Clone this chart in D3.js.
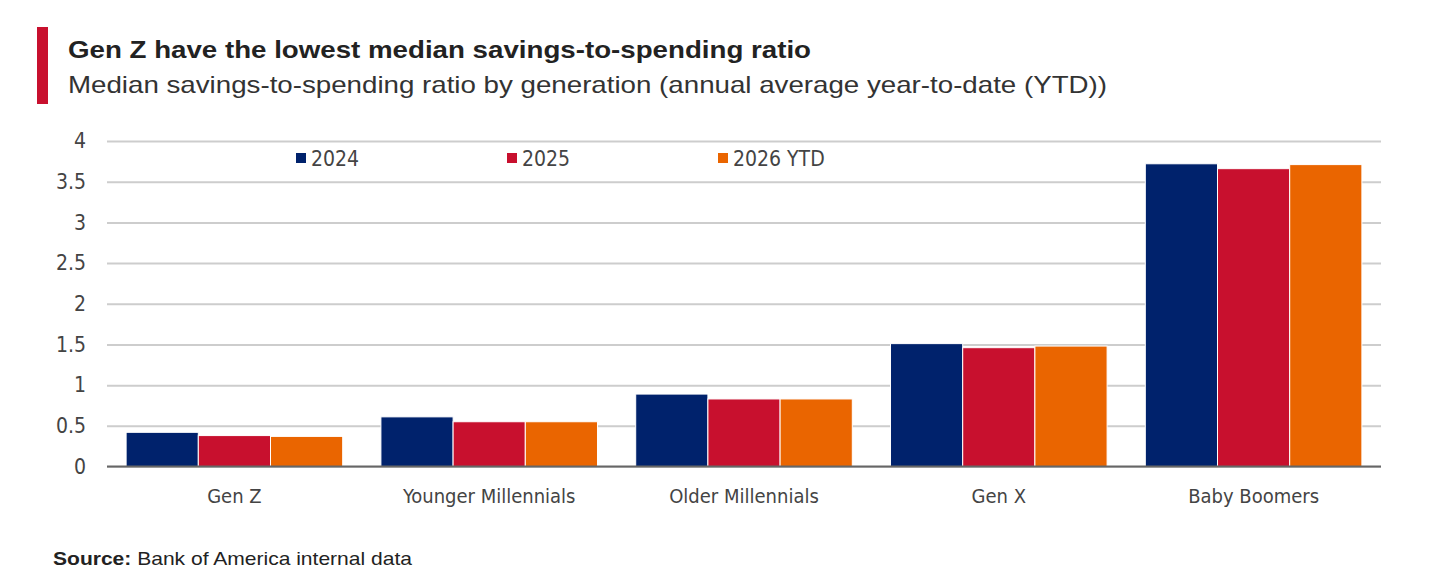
<!DOCTYPE html>
<html>
<head>
<meta charset="utf-8">
<script src="https://cdn.jsdelivr.net/npm/d3@7"></script>
<style>
  body { margin: 0; background: #fff; }
  svg text { font-family: "Liberation Sans", Arial, sans-serif; }
  .cond { font-family: "Liberation Sans Narrow", "DejaVu Sans Condensed", "Liberation Sans", sans-serif; }
</style>
</head>
<body>
<div id="chart"></div>
<script>
// data
var generations = ['Gen Z', 'Younger Millennials', 'Older Millennials', 'Gen X', 'Baby Boomers'];
var seriesNames = ['2024', '2025', '2026 YTD'];
var v2024 = [0.42, 0.61, 0.89, 1.51, 3.72];
var v2025 = [0.38, 0.55, 0.83, 1.46, 3.66];
var v2026 = [0.37, 0.55, 0.83, 1.48, 3.71];
var yTicks = [0, 0.5, 1, 1.5, 2, 2.5, 3, 3.5, 4];

var colors = ['#00226c', '#c8102e', '#ea6500'];
var seriesValues = [v2024, v2025, v2026];

var width = 1439, height = 582;
var svg = d3.select('#chart').append('svg')
    .attr('width', width)
    .attr('height', height);

// title block
svg.append('rect')
    .attr('x', 37).attr('y', 27)
    .attr('width', 11).attr('height', 77)
    .style('fill', '#c8102e');

svg.append('text')
    .attr('x', 68).attr('y', 58)
    .attr('textLength', 743)
    .attr('lengthAdjust', 'spacingAndGlyphs')
    .style('font-size', '24px')
    .style('font-weight', 'bold')
    .style('fill', '#222')
    .text('Gen Z have the lowest median savings-to-spending ratio');

svg.append('text')
    .attr('x', 68).attr('y', 93)
    .attr('textLength', 1039)
    .attr('lengthAdjust', 'spacingAndGlyphs')
    .style('font-size', '24px')
    .style('fill', '#333')
    .text('Median savings-to-spending ratio by generation (annual average year-to-date (YTD))');

// plot area
var plotLeft = 107, plotRight = 1381, plotTop = 141, plotBottom = 466.5;

var x = d3.scaleBand()
    .domain(generations)
    .range([plotLeft, plotRight])
    .paddingInner(0.15)
    .paddingOuter(0.075);

var xSub = d3.scaleBand()
    .domain(seriesNames)
    .range([0, x.bandwidth()]);

var y = d3.scaleLinear()
    .domain([0, 4])
    .range([plotBottom, plotTop]);

// gridlines
var yAxis = d3.axisLeft(y)
    .tickValues(yTicks)
    .tickSize(-(plotRight - plotLeft))
    .tickPadding(21)
    .tickFormat(d3.format('~g'));

var gy = svg.append('g')
    .attr('transform', 'translate(' + plotLeft + ',0)')
    .call(yAxis);
gy.select('.domain').remove();
gy.selectAll('.tick line')
    .style('stroke', '#cdcdcd')
    .style('stroke-width', 2);
gy.selectAll('.tick text')
    .attr('class', 'cond')
    .style('font-size', '21px')
    .style('fill', '#444');

// bars
var groups = svg.append('g').selectAll('g')
    .data(generations)
    .enter().append('g')
    .attr('transform', d => 'translate(' + x(d) + ',0)');

groups.selectAll('rect')
    .data((d, i) => seriesNames.map((s, j) => ({ s: s, v: seriesValues[j][i], c: colors[j] })))
    .enter().append('rect')
    .attr('x', d => xSub(d.s))
    .attr('y', d => y(d.v))
    .attr('width', xSub.bandwidth())
    .attr('height', d => y(0) - y(d.v))
    .style('fill', d => d.c)
    .style('stroke', '#fff')
    .style('stroke-width', 1);

// baseline
svg.append('line')
    .attr('x1', plotLeft).attr('x2', plotRight)
    .attr('y1', y(0)).attr('y2', y(0))
    .style('stroke', '#666')
    .style('stroke-width', 2);

// category axis
var xAxis = d3.axisBottom(x).tickSize(0).tickPadding(22);
var gx = svg.append('g')
    .attr('transform', 'translate(0,' + y(0) + ')')
    .call(xAxis);
gx.select('.domain').remove();
gx.selectAll('.tick text')
    .attr('class', 'cond')
    .style('font-size', '20px')
    .style('fill', '#444');

// legend
var legendX = [296, 507, 718];
var legend = svg.append('g').selectAll('g')
    .data(seriesNames)
    .enter().append('g')
    .attr('transform', (d, i) => 'translate(' + legendX[i] + ',153)');

legend.append('rect')
    .attr('width', 10).attr('height', 10)
    .style('fill', (d, i) => colors[i]);

legend.append('text')
    .attr('class', 'cond')
    .attr('x', 15).attr('y', 13)
    .style('font-size', '21px')
    .style('fill', '#444')
    .text(d => d);

// source
var src = svg.append('text')
    .attr('x', 53).attr('y', 565)
    .attr('textLength', 359)
    .attr('lengthAdjust', 'spacingAndGlyphs')
    .style('font-size', '19px')
    .style('fill', '#222');
src.append('tspan').style('font-weight', 'bold').text('Source:');
src.append('tspan').text(' Bank of America internal data');
</script>
</body>
</html>
